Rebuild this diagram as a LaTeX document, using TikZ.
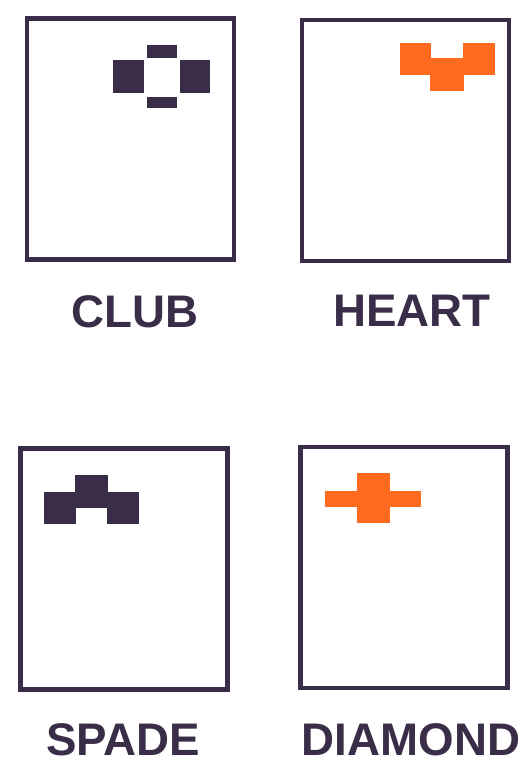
\documentclass[tikz,border=0pt]{standalone}
\usepackage{fontspec}
\setmainfont{Liberation Sans}
\usepackage{tikz}
\usetikzlibrary{positioning}

\definecolor{ink}{HTML}{3A2D48}
\definecolor{suitorange}{HTML}{FF6A1F}

\begin{document}
\begin{tikzpicture}[x=0.02cm, y=-0.02cm,
  card/.style={draw=ink, line width=2.4pt, fill=white, inner sep=0pt,
    minimum width=4.14cm, minimum height=4.82cm},
  suitname/.style={text=ink, font=\fontsize{26}{30}\selectfont\bfseries},
  darkpix/.style={fill=ink},
  redpix/.style={fill=suitorange}]

\useasboundingbox (0, 0) rectangle (529, 774);

% --- Cards ---
\node[card] (club) at (130.5, 139) {};
\node[card] (heart) at (405.5, 140.5) {};
\node[card] (spade) at (124, 569) {};
\node[card] (diamond) at (404, 567.5) {};

% --- Names ---
\node[suitname] (clublab) at (135, 312) {CLUB};
\node[suitname] (heartlab) at (412, 311) {HEART};
\node[suitname] (spadelab) at (123, 740) {SPADE};
\node[suitname] (diamondlab) at (411, 740) {DIAMOND};

% --- Club pattern ---
\fill[darkpix] (147, 45) rectangle (177, 58);
\fill[darkpix] (113, 60) rectangle (144, 93);
\fill[darkpix] (180, 60) rectangle (210, 93);
\fill[darkpix] (147, 97) rectangle (177, 108);

% --- Heart pattern ---
\fill[redpix] (400, 43) rectangle (431, 75);
\fill[redpix] (463, 43) rectangle (495, 75);
\fill[redpix] (430, 58) rectangle (464, 91);

% --- Spade pattern ---
\fill[darkpix] (44, 492) rectangle (76, 524);
\fill[darkpix] (75, 475) rectangle (108, 508);
\fill[darkpix] (107, 492) rectangle (139, 524);

% --- Diamond pattern ---
\fill[redpix] (325, 491) rectangle (421, 507);
\fill[redpix] (357, 473) rectangle (390, 523);

\end{tikzpicture}
\end{document}
